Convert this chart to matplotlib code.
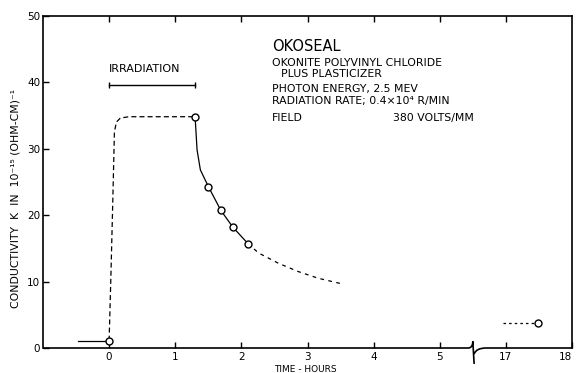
import numpy as np
import matplotlib
matplotlib.use('Agg')
import matplotlib.pyplot as plt
from matplotlib.path import Path
from matplotlib.patches import PathPatch

# time axis is broken between 5.5 h and 16.5 h: hours after the break are shifted by 11
BREAK_SHIFT = 11

# before irradiation
pre_t = [-0.47, 0.0]
pre_k = [1.1, 1.1]

# rise during irradiation (dashed)
rise_t = [0.0, 0.03, 0.06, 0.08, 0.11, 0.17, 0.3, 1.3]
rise_k = [1.1, 12.0, 24.0, 32.5, 34.0, 34.6, 34.8, 34.8]

# decay after irradiation (solid curve + measured points)
decay_t = [1.3, 1.33, 1.38, 1.5, 1.69, 1.87, 2.1]
decay_k = [34.8, 29.8, 26.8, 24.3, 20.7, 18.2, 15.7]
pts_t = [0.0, 1.3, 1.5, 1.69, 1.87, 2.1]
pts_k = [1.1, 34.8, 24.3, 20.7, 18.2, 15.7]

# extrapolated decay (dashed)
extra_t = [2.1, 2.26, 2.56, 2.86, 3.16, 3.5]
extra_k = [15.7, 14.3, 12.75, 11.5, 10.5, 9.7]

# late reading at ~17.5 h
late_t = [16.95, 17.45]
late_k = [3.7, 3.7]
late_pt_t = [17.48]
late_pt_k = [3.7]

irr_start, irr_end = 0.0, 1.3

xtick_pos = [0, 1, 2, 3, 4, 5, 17, 18]
yticks = [0, 10, 20, 30, 40, 50]

info_lines = [
    ("OKONITE POLYVINYL CHLORIDE", 2.46, 42.9),
    ("PLUS PLASTICIZER", 2.60, 41.2),
    ("PHOTON ENERGY, 2.5 MEV", 2.46, 38.9),
    ("RADIATION RATE; 0.4\u00d710\u2074 R/MIN", 2.46, 37.1),
    ("FIELD", 2.46, 34.6),
    ("380 VOLTS/MM", 4.29, 34.6),
]


def shift(ts):
    return [t - BREAK_SHIFT if t > 5.5 else t for t in ts]


fig = plt.figure(figsize=(5.76, 3.73), dpi=100)
ax = fig.add_axes([43 / 576, 25 / 373, 529 / 576, 332.3 / 373])

lw = 0.9
ax.plot(pre_t, pre_k, color='black', lw=lw)
ax.plot(rise_t, rise_k, color='black', lw=lw, dashes=(4, 2.5))
ax.plot(decay_t, decay_k, color='black', lw=lw)
ax.plot(extra_t, extra_k, color='black', lw=lw, dashes=(3, 3.5))
ax.plot(shift(late_t), late_k, color='black', lw=lw, dashes=(2, 2.5))
ax.plot(pts_t + shift(late_pt_t), pts_k + late_pt_k, 'o', color='black',
        mfc='white', mew=1.0, ms=5, zorder=5)

# irradiation interval bar
ax.plot([irr_start, irr_end], [39.5, 39.5], color='black', lw=1.0)
ax.plot([irr_start, irr_end], [39.5, 39.5], '|', color='black', ms=5, mew=1.0)
ax.text(irr_start, 41.6, "IRRADIATION", fontsize=8, ha='left', va='baseline')

ax.text(2.46, 45.4, "OKOSEAL", fontsize=10.5, ha='left', va='center')
for txt, x, y in info_lines:
    ax.text(x, y, txt, fontsize=7.8, ha='left', va='center')

ax.set_xlim(-1, 7)
ax.set_ylim(0, 50)

ax.set_xticks(shift(xtick_pos))
ax.set_xticklabels([str(t) for t in xtick_pos])
ax.get_xticklabels()[-1].set_ha('right')
ax.set_yticks(yticks)
ax.tick_params(axis='both', direction='in', length=4, width=1.0, labelsize=7.5, pad=3)
ax.tick_params(axis='y', pad=2)
ax.tick_params(top=True, labeltop=False)

# top ticks only up to 17 h
for t in ax.xaxis.get_major_ticks():
    if t.get_loc() > 6.5:
        t.tick2line.set_visible(False)

for s in ax.spines.values():
    s.set_linewidth(1.2)
ax.spines['bottom'].set_visible(False)

# bottom axis with break symbol
verts = [(-1, 0), (5.44, 0), (5.5, 0.1), (5.5, 1.0), (5.52, -2.4),
         (5.52, -0.9), (5.55, 0), (5.7, 0), (7, 0)]
codes = [Path.MOVETO, Path.LINETO, Path.CURVE3, Path.CURVE3, Path.LINETO,
         Path.MOVETO, Path.CURVE3, Path.CURVE3, Path.LINETO]
ax.add_patch(PathPatch(Path(verts, codes), fill=False, lw=1.2,
                       edgecolor='black', clip_on=False))

ax.set_ylabel("CONDUCTIVITY  K  IN  10\u207b\u00b9\u2075 (OHM-CM)\u207b\u00b9", fontsize=7.8)
ax.yaxis.set_label_coords(-0.043, 0.45)
fig.text(305 / 576, 4 / 373, "TIME - HOURS", fontsize=6.5, ha='center', va='center')

fig.savefig('out.png', dpi=100)
